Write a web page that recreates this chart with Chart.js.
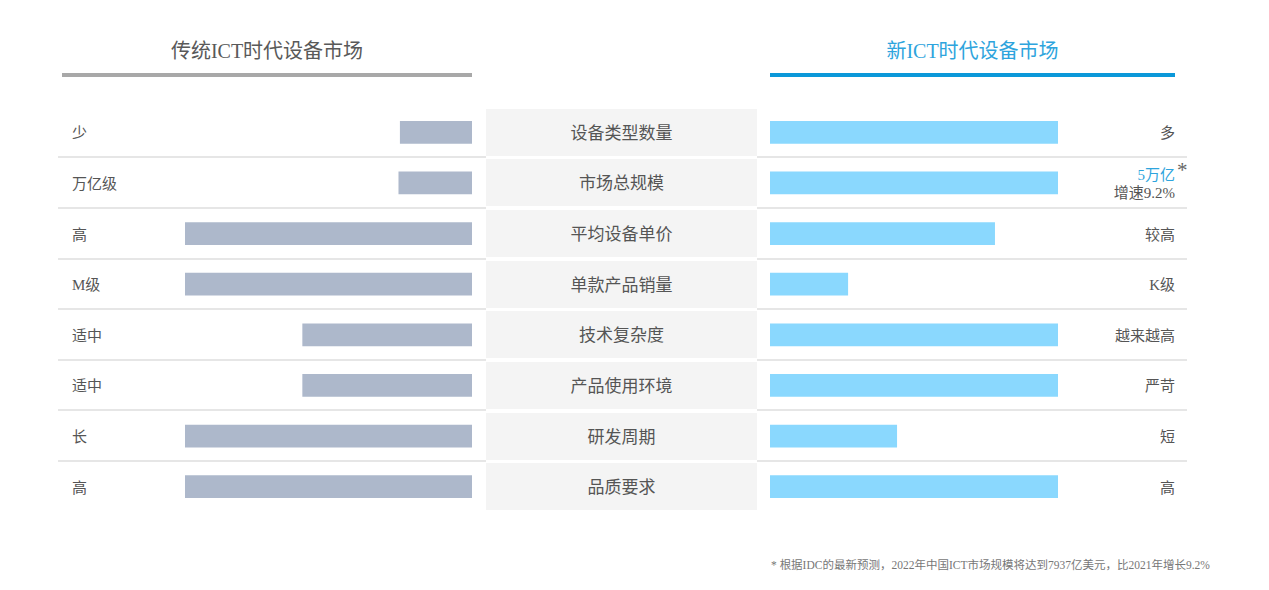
<!DOCTYPE html>
<html>
<head>
<meta charset="utf-8">
<script src="https://cdn.jsdelivr.net/npm/chart.js@4.4.0/dist/chart.umd.min.js"></script>
<style>
    body {
        margin: 0;
        width: 1269px;
        height: 590px;
        background: #fff;
        position: relative;
        overflow: hidden;
        font-family: "Liberation Serif", "Noto Sans CJK SC", serif;
        color: #555;
    }
    .abs { position: absolute; white-space: nowrap; }
    .title { font-size: 20px; top: 36px; height: 30px; line-height: 30px; text-align: center; }
    .rule { height: 4px; top: 73px; }
    .box { background: #f4f4f4; }
    .sep { height: 2px; background: #e6e6e6; }
    .lbl { font-size: 15px; height: 24px; line-height: 24px; }
    .mid { font-size: 17px; text-align: center; }
    #leftChart, #rightChart { position: absolute; }
    .note { font-size: 11.5px; color: #777; left: 771px; top: 556px; }
</style>
</head>
<body>

<div class="abs title" style="left:62px;width:410px;color:#595959;">传统ICT时代设备市场</div>
<div class="abs rule" style="left:62px;width:410px;background:#a8a8a8;"></div>
<div class="abs title" style="left:770px;width:405px;color:#2ea4dd;">新ICT时代设备市场</div>
<div class="abs rule" style="left:770px;width:405px;background:#0b98d9;"></div>

<div id="rows"></div>

<canvas id="leftChart" width="287" height="405" style="left:185px;top:107px;"></canvas>
<canvas id="rightChart" width="288" height="405" style="left:770px;top:107px;"></canvas>

<div class="abs note">* 根据IDC的最新预测，2022年中国ICT市场规模将达到7937亿美元，比2021年增长9.2%</div>

<script>
// 항목 (가운데 라벨)
const categories = ['设备类型数量', '市场总规模', '平均设备单价', '单款产品销量', '技术复杂度', '产品使用环境', '研发周期', '品质要求'];
// 왼쪽: 传统ICT时代
const oldLabels = ['少', '万亿级', '高', 'M级', '适中', '适中', '长', '高'];
const oldValues = [25, 25.5, 100, 100, 59, 59, 100, 100];
// 오른쪽: 新ICT时代
const newLabels = ['多', '5万亿', '较高', 'K级', '越来越高', '严苛', '短', '高'];
const newValues = [100, 100, 78, 27, 100, 100, 44, 100];

const rowTop = 107;
const rowH = 405 / categories.length;

document.addEventListener('DOMContentLoaded', () => {

    // 행 배경, 구분선, 텍스트
    let html = '';
    categories.forEach((c, i) => {
        const cy = rowTop + rowH * (i + 0.5);
        html += `<div class="abs box" style="left:486px;width:271px;top:${cy - 23.5}px;height:47px;"></div>`;
        html += `<div class="abs lbl mid" style="left:486px;width:271px;top:${cy - 10.5}px;">${c}</div>`;
        if (i < categories.length - 1) {
            html += `<div class="abs sep" style="left:58px;width:428px;top:${cy + 24}px;"></div>`;
            html += `<div class="abs sep" style="left:757px;width:430px;top:${cy + 24}px;"></div>`;
        }
        html += `<div class="abs lbl" style="left:72px;top:${cy - 11}px;">${oldLabels[i]}</div>`;
        if (i === 1) {
            html += `<div class="abs lbl" style="right:94px;top:${cy - 20}px;color:#2ea4dd;">${newLabels[i]}</div>`;
            html += `<div class="abs" style="left:1177px;top:${cy - 25}px;font-size:21px;color:#666;">*</div>`;
            html += `<div class="abs lbl" style="right:94px;top:${cy - 2}px;font-size:15px;">增速9.2%</div>`;
        } else {
            html += `<div class="abs lbl" style="right:94px;top:${cy - 11}px;">${newLabels[i]}</div>`;
        }
    });
    document.getElementById('rows').innerHTML = html;

    const common = {
        indexAxis: 'y',
        responsive: false,
        animation: false,
        devicePixelRatio: 1,
        layout: { padding: 0 },
        plugins: {
            legend: { display: false },
            tooltip: { enabled: false }
        }
    };

    const ctx = document.getElementById('leftChart');
    new Chart(ctx, {
        type: 'bar',
        data: {
            labels: categories,
            datasets: [{
                label: '传统ICT时代设备市场',
                data: oldValues,
                barThickness: 22,
                borderWidth: 0,
                backgroundColor: '#adb8cb'
            }]
        },
        options: Object.assign({}, common, {
            scales: {
                x: { display: false, min: 0, max: 100, reverse: true },
                y: { display: false }
            }
        })
    });

    const ctx2 = document.getElementById('rightChart');
    new Chart(ctx2, {
        type: 'bar',
        data: {
            labels: categories,
            datasets: [{
                label: '新ICT时代设备市场',
                data: newValues,
                barThickness: 22,
                borderWidth: 0,
                backgroundColor: '#8ad8fe'
            }]
        },
        options: Object.assign({}, common, {
            scales: {
                x: { display: false, min: 0, max: 100 },
                y: { display: false }
            }
        })
    });
});
</script>
</body>
</html>
